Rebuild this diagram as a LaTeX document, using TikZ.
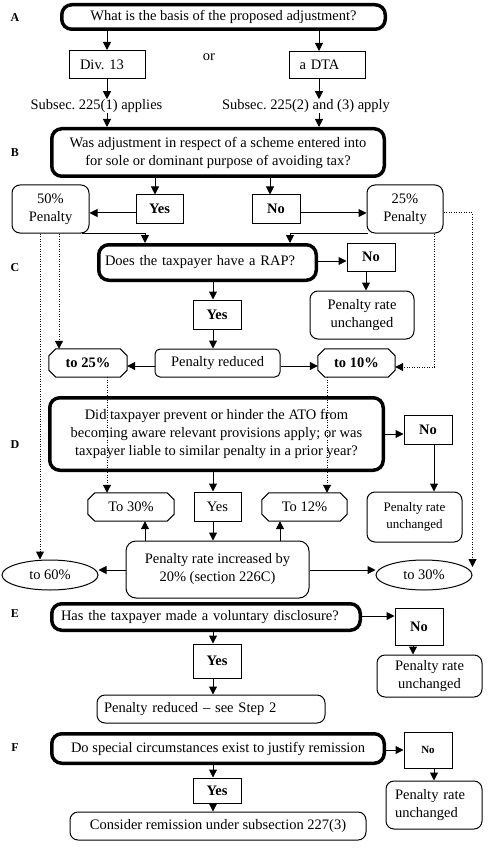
\documentclass[tikz,border=0pt]{standalone}
\usepackage{fontspec}
\setmainfont{Liberation Serif}
\usetikzlibrary{arrows.meta,shapes.geometric}
\begin{document}
\frenchspacing
\begin{tikzpicture}[x=1pt,y=-1pt,
  every node/.style={inner sep=0pt, font=\fontsize{14.5}{18}\selectfont},
  box/.style={draw, line width=1pt, align=center},
  rbox/.style={box, rounded corners=8pt},
  qbox/.style={draw, line width=3.5pt, rounded corners=10pt, align=center},
  octbox/.style={align=center},
  ellbox/.style={draw, line width=1pt, ellipse},
  bx/.style={font=\bfseries\fontsize{14.5}{18}\selectfont},
  lab/.style={font=\bfseries\fontsize{12}{14}\selectfont},
  arr/.style={line width=1pt, -{Triangle[length=8pt,width=8pt]}},
  dotarr/.style={line width=1pt, dash pattern=on 1pt off 1.5pt, -{Triangle[length=8pt,width=8pt]}}
]
\useasboundingbox[fill=white] (0,0) rectangle (489,850);

% column / row helpers
\coordinate (xL) at (107,0);
\coordinate (xR) at (319,0);
\coordinate (xYB) at (155,0);
\coordinate (xNB) at (270,0);
\coordinate (x40) at (40,0);
\coordinate (x59) at (59,0);
\coordinate (x82) at (82,0);
\coordinate (x145) at (145,0);
\coordinate (x213) at (213,0);
\coordinate (x280) at (280,0);
\coordinate (x290) at (290,0);
\coordinate (x327) at (327,0);
\coordinate (x366) at (366,0);
\coordinate (x368) at (368,0);
\coordinate (x413) at (413,0);
\coordinate (x434) at (434,0);
\coordinate (y213) at (0,213);
\coordinate (y261) at (0,261);
\coordinate (y366) at (0,366);
\coordinate (y367) at (0,367);
\coordinate (y434) at (0,434);
\coordinate (y570) at (0,570);
\coordinate (y616) at (0,616);
\coordinate (y750) at (0,750);

% step labels
\node[lab] (lA) at (15,18) {A};
\node[lab] (lB) at (15,153) {B};
\node[lab] (lC) at (15,268) {C};
\node[lab] (lD) at (15,445) {D};
\node[lab] (lE) at (15,614) {E};
\node[lab] (lF) at (15,748) {F};

% A
\node[qbox, minimum width=323.5, minimum height=24.5] (qA) at (223.5,17) {What is the basis of the proposed adjustment?};
\node[box, minimum width=76, minimum height=28, text width=55, align=left] (div) at (107.5,64.5) {Div.\ 13};
\node[box, minimum width=76, minimum height=27, text width=56, align=left] (dta) at (327.5,65) {a DTA};
\node (or) at (209,57) {or};
\node (s1) at (96.5,106) {Subsec.\ 225(1) applies};
\node (s2) at (306,106) {Subsec.\ 225(2) and (3) apply};

% B
\node[qbox, minimum width=332.5, minimum height=47.5] (qB) at (218,152.5) {Was adjustment in respect of a scheme entered into\\for sole or dominant purpose of avoiding tax?};
\node[box, bx, minimum width=47, minimum height=28] (yesB) at (159.5,209) {Yes};
\node[box, bx, minimum width=48, minimum height=28] (noB) at (276,209) {No};
\node[rbox, minimum width=77, minimum height=48] (p50) at (50.5,209) {50\%\\Penalty};
\node[rbox, minimum width=76, minimum height=48] (p25) at (405,209) {25\%\\Penalty};

% C
\node[qbox, minimum width=217.5, minimum height=35.5, text width=205, align=left] (qC) at (207.5,262.5) {Does the taxpayer have a RAP?};
\node[box, bx, minimum width=48, minimum height=28] (noC) at (371,257) {No};
\node[rbox, minimum width=104, minimum height=48] (unchC) at (362,315) {Penalty rate\\unchanged};
\node[box, bx, minimum width=48, minimum height=29] (yesC) at (217,314.5) {Yes};
\node[rbox, rounded corners=5pt, minimum width=125, minimum height=28] (redC) at (217.5,363) {Penalty reduced};
\node[octbox, bx, minimum width=78, minimum height=28] (to25) at (88,363) {to 25\%};
\node[octbox, bx, minimum width=77, minimum height=28] (to10) at (356.5,363) {to 10\%};

% D
\node[qbox, minimum width=333.5, minimum height=72.5] (qD) at (216.5,434) {Did taxpayer prevent or hinder the ATO from\\becoming aware relevant provisions apply; or was\\taxpayer liable to similar penalty in a prior year?};
\node[box, bx, minimum width=48, minimum height=29] (noD) at (428,429.5) {No};
\node[rbox, minimum width=95, minimum height=50, font=\fontsize{13}{17}\selectfont] (unchD) at (414.5,517) {Penalty rate\\unchanged};
\node[box, minimum width=47, minimum height=29] (yesD) at (217.5,506.5) {Yes};
\node[octbox, minimum width=86, minimum height=28] (to30) at (131,507) {To 30\%};
\node[octbox, minimum width=85, minimum height=28] (to12) at (304.5,507) {To 12\%};
\node[rbox, rounded corners=10pt, minimum width=183, minimum height=57] (incr) at (217.5,569.5) {Penalty rate increased by\\20\% (section 226C)};
\node[ellbox, minimum width=96, minimum height=30] (to60) at (50,575) {to 60\%};
\node[ellbox, minimum width=96, minimum height=30] (to30e) at (424,575) {to 30\%};

% E
\node[qbox, minimum width=308.5, minimum height=26.5, text width=290, align=left] (qE) at (206,617) {Has the taxpayer made a voluntary disclosure?};
\node[box, bx, minimum width=48, minimum height=37] (noE) at (419,626.5) {No};
\node[rbox, minimum width=105, minimum height=42] (unchE) at (429.5,676) {Penalty rate\\unchanged};
\node[box, bx, minimum width=48, minimum height=34] (yesE) at (217,661) {Yes};
\node[rbox, minimum width=228, minimum height=28, text width=214, align=left] (redE) at (211,709) {Penalty reduced – see Step 2};

% F
\node[qbox, minimum width=332.5, minimum height=29.5] (qF) at (218,748.5) {Do special circumstances exist to justify remission};
\node[box, minimum width=48, minimum height=36, font=\bfseries\fontsize{11}{13}\selectfont] (noF) at (428,750) {No};
\node[rbox, minimum width=96, minimum height=48, text width=78, align=left] (unchF) at (434,805) {Penalty rate\\unchanged};
\node[box, bx, minimum width=48, minimum height=25] (yesF) at (217,790.5) {Yes};
\node[rbox, minimum width=296, minimum height=28] (consF) at (218,826) {Consider remission under subsection 227(3)};

% octagon outlines
\foreach \n in {to25,to10,to30,to12}{
  \draw[line width=1pt] ([xshift=7pt]\n.north west) -- ([xshift=-7pt]\n.north east)
    -- ([yshift=-7pt]\n.north east) -- ([yshift=7pt]\n.south east)
    -- ([xshift=-7pt]\n.south east) -- ([xshift=7pt]\n.south west)
    -- ([yshift=7pt]\n.south west) -- ([yshift=-7pt]\n.north west) -- cycle;
}

% A connectors
\draw[arr] (qA.south -| xL) -- (div.north -| xL);
\draw[arr] (qA.south -| xR) -- (dta.north -| xR);
\draw[arr] (div.south -| xL) -- (s1.north -| xL);
\draw[arr] (dta.south -| xR) -- (s2.north -| xR);
\draw[arr] (s1.south -| xL) -- (qB.north -| xL);
\draw[arr] (s2.south -| xR) -- (qB.north -| xR);

% B connectors
\draw[arr] (qB.south -| xYB) -- (yesB.north -| xYB);
\draw[arr] (qB.south -| xNB) -- (noB.north -| xNB);
\draw[arr] (yesB.west |- y213) -- (p50.east |- y213);
\draw[arr] (noB.east |- y213) -- (p25.west |- y213);
\draw[arr] (p50.south -| x82) -| (qC.north -| x145);
\draw[arr] (p25.south -| x368) -| (qC.north -| x290);

% C connectors
\draw[arr] (qC.east |- y261) -- (noC.west |- y261);
\draw[arr] (noC.south -| x366) -- (unchC.north -| x366);
\draw[arr] (qC.south -| x213) -- (yesC.north -| x213);
\draw[arr] (yesC.south -| x213) -- (redC.north -| x213);
\draw[arr] (redC.west |- y366) -- (to25.east |- y366);
\draw[arr] (redC.east |- y366) -- (to10.west |- y366);

% D connectors
\draw[arr] (qD.east |- y434) -- (noD.west |- y434);
\draw[arr] (noD.south -| x434) -- (unchD.north -| x434);
\draw[arr] (qD.south -| x213) -- (yesD.north -| x213);
\draw[arr] (yesD.south -| x213) -- (incr.north -| x213);
\draw[arr] (incr.north -| x145) -- (to30.south -| x145);
\draw[arr] (incr.north -| x280) -- (to12.south -| x280);
\draw[arr] (incr.west |- y570) -- (to60.east |- y570);
\draw[arr] (incr.east |- y570) -- (to30e.west |- y570);

% dotted connectors
\draw[dotarr] (p50.south -| x40) -- (to60.north -| x40);
\draw[dotarr] (p50.south -| x59) -- (to25.north -| x59);
\draw[dotarr] (p25.south -| x434) |- (to10.east |- y367);
\draw[dotarr] (p25.east |- y213) -| ([yshift=8pt]to30e.east);
\draw[dotarr] (to25.south -| xL) -- (to30.north -| xL);
\draw[dotarr] (to10.south -| x327) -- (to12.north -| x327);

% E connectors
\draw[arr] (qE.east |- y616) -- (noE.west |- y616);
\draw[arr] (noE.south -| x413) -- (unchE.north -| x413);
\draw[arr] (qE.south -| x213) -- (yesE.north -| x213);
\draw[arr] (yesE.south -| x213) -- (redE.north -| x213);

% F connectors
\draw[arr] (qF.east |- y750) -- (noF.west |- y750);
\draw[arr] (noF.south -| x434) -- (unchF.north -| x434);
\draw[arr] (qF.south -| x213) -- (yesF.north -| x213);
\draw[arr] (yesF.south -| x213) -- (consF.north -| x213);
\end{tikzpicture}
\end{document}
